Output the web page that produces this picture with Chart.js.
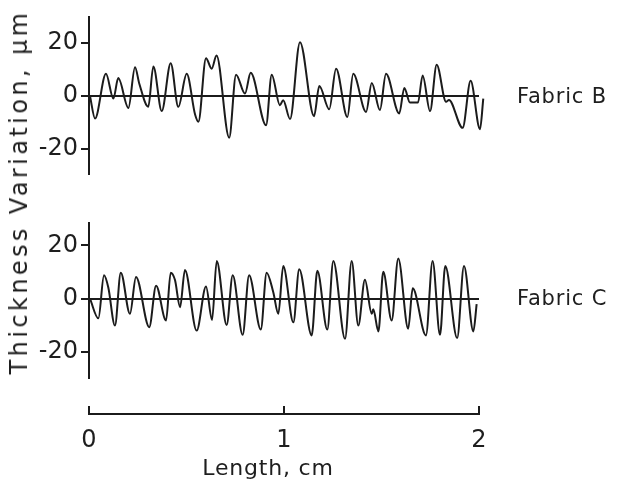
<!DOCTYPE html>
<html lang="en">
<head>
<meta charset="UTF-8">
<title>Thickness variation</title>
<style>
    body { margin: 0; background: #fff; }
    .wrap { position: relative; width: 619px; height: 498px; font-family: "DejaVu Sans", sans-serif; color: #1e1e1e; }
    canvas { position: absolute; left: 0; top: 0; }
    .lbl { position: absolute; white-space: nowrap; }
    #ytitle { left: 19px; top: 192px; font-size: 24px; letter-spacing: 3.4px; transform: translate(-50%, -50%) rotate(-90deg); }
    .fabric { left: 517px; font-size: 21px; letter-spacing: 0.8px; }
    #xtitle { left: 268px; top: 455px; font-size: 22px; letter-spacing: 0.8px; transform: translateX(-50%); }
</style>
</head>
<body>
<div class="wrap">
    <canvas id="chart" width="619" height="498"></canvas>
    <div class="lbl" id="ytitle">Thickness Variation, µm</div>
    <div class="lbl fabric" style="top:84px">Fabric B</div>
    <div class="lbl fabric" style="top:286px">Fabric C</div>
    <div class="lbl" id="xtitle">Length, cm</div>
</div>

<script src="https://cdn.jsdelivr.net/npm/chart.js"></script>
<script>
    // traces, length in cm, variation in µm
    const lengthB = [0.005, 0.031, 0.087, 0.125, 0.150, 0.202, 0.236, 0.258, 0.304, 0.330,
        0.373, 0.419, 0.458, 0.501, 0.544, 0.561, 0.600, 0.629, 0.654, 0.719,
        0.754, 0.800, 0.829, 0.908, 0.937, 0.979, 0.996, 1.031, 1.082, 1.154,
        1.181, 1.232, 1.267, 1.325, 1.355, 1.421, 1.450, 1.492, 1.523, 1.591,
        1.617, 1.646, 1.687, 1.711, 1.749, 1.783, 1.831, 1.846, 1.916, 1.957,
        2.005, 2.022];
    const fabricB = [0, -8.5, 8.3, -1, 6.7, -4.5, 10.8, 4.6, -4.1, 11.1,
        -5.7, 12.3, -4.1, 8.3, -7, -9.7, 14.2, 10.2, 15.2, -15.7,
        8.0, 0.9, 8.7, -11, 8.0, -3.5, -1.6, -8.7, 20.2, -7.6,
        3.7, -5, 10.2, -7.9, 8.3, -6, 4.9, -5.3, 8.3, -6.6,
        3, -2.5, -2.5, 7.7, -5.7, 11.7, -2.2, -1.5, -12, 5.7,
        -12.5, -1];

    const lengthC = [0.005, 0.048, 0.077, 0.099, 0.133, 0.163, 0.210, 0.241, 0.309, 0.344,
        0.395, 0.419, 0.441, 0.467, 0.492, 0.552, 0.600, 0.631, 0.655, 0.706,
        0.737, 0.788, 0.821, 0.881, 0.911, 0.945, 0.971, 0.996, 1.048, 1.078,
        1.142, 1.171, 1.222, 1.253, 1.313, 1.347, 1.381, 1.415, 1.450, 1.458,
        1.484, 1.509, 1.552, 1.586, 1.637, 1.660, 1.728, 1.762, 1.800, 1.827,
        1.888, 1.923, 1.971, 1.988];
    const fabricC = [0, -7.4, 8.8, 4.2, -10.1, 9.8, -5.7, 8.2, -10.7, 4.9,
        -8.2, 9.8, 7, -3.2, 10.8, -12, 4.6, -8, 14.2, -9.9,
        8.8, -13.6, 8.8, -11.6, 9.8, 2.4, -5.7, 12.3, -8.9, 11.1,
        -13.8, 10.5, -11.6, 14.2, -15.1, 14.2, -10.1, 7.1, -5.7, -4,
        -12.3, 10.1, -8.2, 15.1, -11.3, 3.9, -13.8, 14.2, -13.6, 12.3,
        -14.8, 12.3, -12.3, -2];

    const yTicks = [-20, 0, 20];
    const xTicks = [0, 1, 2];

    const ink = '#1b1b1b';

    function toPoints(xs, ys) {
        return xs.map((x, i) => ({ x: x, y: ys[i] }));
    }

    function trace(xs, ys, axis) {
        return {
            data: toPoints(xs, ys),
            yAxisID: axis,
            borderColor: ink,
            borderWidth: 2,
            pointRadius: 0,
            cubicInterpolationMode: 'monotone',
            clip: false
        };
    }

    // y axis of one panel, only the zero grid line goes across
    function panelAxis(min, max, weight, stackWeight) {
        return {
            type: 'linear',
            position: 'left',
            stack: 'panels',
            stackWeight: stackWeight,
            weight: weight,
            min: min,
            max: max,
            afterBuildTicks: s => { s.ticks = yTicks.map(v => ({ value: v })); },
            afterFit: s => { s.width = 89; },
            ticks: {
                color: '#1e1e1e',
                padding: 3,
                font: { family: 'DejaVu Sans', size: 24 }
            },
            grid: {
                color: c => (c.tick && c.tick.value === 0) ? ink : 'rgba(0,0,0,0)',
                tickColor: ink,
                lineWidth: 2,
                tickLength: 8
            },
            border: { color: ink, width: 2 }
        };
    }

    // empty axis that only keeps the space between panels
    function spacer(weight, stackWeight) {
        return {
            type: 'linear',
            position: 'left',
            stack: 'panels',
            stackWeight: stackWeight,
            weight: weight,
            min: 0,
            max: 1,
            ticks: { display: false },
            grid: { display: false, drawTicks: false },
            border: { display: false }
        };
    }

    new Chart(document.getElementById('chart'), {
        type: 'line',
        data: {
            datasets: [
                trace(lengthB, fabricB, 'yB'),
                trace(lengthC, fabricC, 'yC')
            ]
        },
        options: {
            responsive: false,
            animation: false,
            layout: { padding: { left: 0, right: 140, top: 15, bottom: 0 } },
            plugins: {
                legend: { display: false },
                tooltip: { enabled: false }
            },
            scales: {
                x: {
                    type: 'linear',
                    position: 'bottom',
                    // range set after the data limits so the trace tail past 2 cm is still drawn
                    afterDataLimits: s => { s.min = 0; s.max = 2; },
                    afterBuildTicks: s => { s.ticks = xTicks.map(v => ({ value: v })); },
                    afterFit: s => { s.height = 84; },
                    ticks: {
                        color: '#1e1e1e',
                        padding: 20,
                        maxRotation: 0,
                        font: { family: 'DejaVu Sans', size: 24 }
                    },
                    grid: {
                        drawOnChartArea: false,
                        tickColor: ink,
                        lineWidth: 2,
                        tickLength: -8
                    },
                    border: { color: ink, width: 2 }
                },
                yB: panelAxis(-29.5, 29.5, 4, 158),
                gap1: spacer(3, 49),
                yC: panelAxis(-29.9, 28.4, 2, 156),
                gap2: spacer(1, 36)
            }
        }
    });
</script>
</body>
</html>
